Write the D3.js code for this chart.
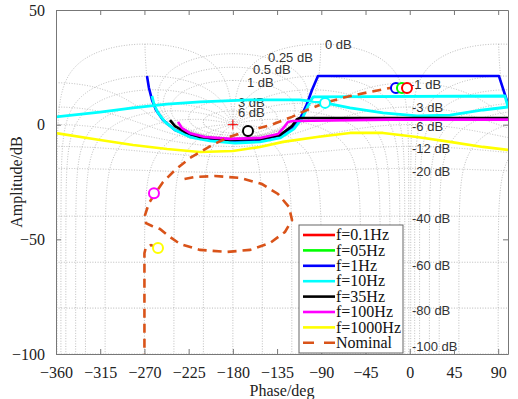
<!DOCTYPE html>
<html>
<head>
<meta charset="utf-8">
<script src="https://cdn.jsdelivr.net/npm/d3@7"></script>
<style>
  body { margin: 0; background: #fff; }
  svg { display: block; }
</style>
</head>
<body>
<svg id="chart" width="518" height="399"></svg>
<script>
// values (phase in deg, amplitude in dB)
const phase1Hz = [-267.4, -265.4, -262.3, -258.2, -251.1, -238.9, -223.6, -203.3, -177.8, -152.4, -132.0, -118.8, -110.7, -104.6, -99.5, -93.4, 90.8, 100];
const amp1Hz = [21.2, 16.0, 10.8, 6.4, 2.0, -2.3, -4.9, -6.7, -7.5, -7.1, -5.4, -1.4, 3.4, 9.0, 15.1, 21.2, 21.2, 9.0];

const phase10Hz = [-262.3, -260.3, -256.2, -249.1, -238.9, -223.6, -203.3, -177.8, -152.4, -132.0, -117.8, -108.6, -103.5, -98.4, 96.9, 100, 74.6, 41.0, 7.4, -27.2, -60.8, -86.2, -111.7, -162.6, -213.5, -247.0, -281.6, -315.2, -360];
const amp10Hz = [12.5, 9.0, 5.1, 1.2, -2.3, -5.4, -7.1, -8.0, -7.5, -5.8, -1.8, 3.4, 8.2, 12.1, 12.5, 7.7, 6.4, 4.2, 3.8, 5.1, 7.3, 9.5, 10.8, 10.8, 9.9, 9.0, 7.3, 5.5, 3.4];

const phase35Hz = [-244.0, -238.9, -228.7, -213.5, -182.9, -152.4, -132.0, -119.8, -114.7, -111.7, 100];
const amp35Hz = [2.0, -0.6, -3.2, -5.4, -6.7, -6.2, -4.5, -0.6, 2.4, 2.9, 2.9];

const phase100Hz = [-235.8, -231.8, -223.6, -208.4, -182.9, -152.4, -134.1, -127.0, -123.9, -118.8, -20, 100];
const amp100Hz = [1.2, -1.5, -3.7, -5.4, -6.2, -5.8, -4.1, -0.6, 1.2, 1.6, 2.2, 2.2];

const phase1000Hz = [-360, -315.2, -281.6, -247.0, -213.5, -179.9, -152.4, -129.0, -94.4, -60.8, -27.2, 7.4, 41.0, 74.6, 100];
const amp1000Hz = [-3.7, -6.7, -8.9, -10.6, -11.9, -11.5, -9.7, -7.5, -5.4, -3.6, -3.6, -5.4, -7.5, -9.7, -11.0];

// nominal curve, null = gap in the line
const phaseNom = [-14.0, -20.1, -40.4, -65.9, -86.2, -104.6, -119.8, -141.2, -164.6, -183.9, -201.2, -223.6, -238.9, -251.1, -258.2, -265.4, -269.4, -268.4, -262.3, -254.2, -244.0, -233.8, -213.5, -186.0, -162.6, -142.2, -127.0, -119.8, -122.9, -134.1, -150.4, -172.7, -198.2, -218.5, -233.8, null, -256.2, -263.3, -268.4, -270, -270];
const ampNom = [16.0, 16.0, 14.3, 12.0, 9.5, 6.4, 3.4, -0.1, -2.7, -5.4, -8.9, -14.5, -19.8, -25.0, -29.4, -34.2, -39.4, -42.9, -44.2, -45.5, -49.0, -52.0, -54.6, -55.5, -54.6, -51.6, -46.8, -41.6, -35.9, -30.2, -25.9, -23.2, -22.4, -22.8, -24.1, null, -53.8, -52.5, -53.3, -56.0, -100];

// circle markers (draw order: 1Hz, 05Hz, 0.1Hz, 10Hz, 35Hz, 100Hz, 1000Hz)
const markerPhase = [-14.0, -7.9, -2.8, -86.2, -164.6, -260.3, -256.2];
const markerAmp = [16.0, 16.0, 16.0, 9.5, -2.8, -29.9, -53.8];
const markerColor = ['#0000ff', '#00ff00', '#ff0000', '#00ffff', '#000000', '#ff00ff', '#ffff00'];

const legendNames = ['f=0.1Hz', 'f=05Hz', 'f=1Hz', 'f=10Hz', 'f=35Hz', 'f=100Hz', 'f=1000Hz', 'Nominal'];
const legendColors = ['#ff0000', '#00ff00', '#0000ff', '#00ffff', '#000000', '#ff00ff', '#ffff00', '#d95319'];

const xTicks = [-360, -315, -270, -225, -180, -135, -90, -45, 0, 45, 90];
const yTicks = [-100, -50, 0, 50];

// Nichols grid levels (closed-loop gain dB and closed-loop phase deg)
const gridMdB = [6, 3, 1, 0.5, 0.25, 0, -1, -3, -6, -12, -20, -40, -60, -80, -100];
const gridNdeg = [1, 5, 10, 20, 30, 50, 90, 120, 150, 180, -1, -5, -10, -20, -30, -50, -90, -120, -150];
const gridLabelText = ['0 dB', '0.25 dB', '0.5 dB', '1 dB', '3 dB', '6 dB', '-1 dB', '-3 dB', '-6 dB', '-12 dB', '-20 dB', '-40 dB', '-60 dB', '-80 dB', '-100 dB'];
const gridLabelPhase = [-86.2, -144.2, -159.5, -165.6, -174.8, -174.8, 0.3, 2.3, 2.3, 2.3, 2.3, 2.3, 2.3, 2.3, 2.3];
const gridLabelAmp = [34.8, 29.1, 23.9, 18.6, 9.9, 5.5, 17.7, 7.3, -0.6, -10.2, -20.2, -40.7, -61.2, -80.8, -96.9];

const svg = d3.select('#chart');
const pL = 56, pR = 508, pT = 10, pB = 354;

const x = d3.scaleLinear().domain([-360, 100]).range([pL, pR]);
const y = d3.scaleLinear().domain([-100, 50]).range([pB, pT]);

svg.append('rect').attr('width', 518).attr('height', 399).attr('fill', '#fff');

svg.append('defs').append('clipPath').attr('id', 'plotClip')
  .append('rect').attr('x', pL).attr('y', pT)
  .attr('width', pR - pL).attr('height', pB - pT);

const plot = svg.append('g').attr('clip-path', 'url(#plotClip)');

// open-loop point for closed-loop T = M e^{j th}
function openLoop(M, thDeg) {
  const th = thDeg * Math.PI / 180;
  const a = M * Math.cos(th), b = M * Math.sin(th);
  const d = (1 - a) * (1 - a) + b * b;
  const re = (a - a * a - b * b) / d, im = b / d;
  return [Math.atan2(im, re) * 180 / Math.PI, 10 * Math.log10(re * re + im * im)];
}

function unwrap(pts) {
  for (let i = 1; i < pts.length; i++) {
    while (pts[i][0] - pts[i - 1][0] > 180) pts[i][0] -= 360;
    while (pts[i][0] - pts[i - 1][0] < -180) pts[i][0] += 360;
  }
  return pts;
}

const gridCurves = [];
gridMdB.forEach(db => {
  const M = Math.pow(10, db / 20);
  const pts = [];
  const t0 = db === 0 ? 1 : 0, t1 = db === 0 ? 359 : 360;
  for (let t = t0; t <= t1 + 1e-9; t += 0.1) pts.push(openLoop(M, t));
  gridCurves.push(unwrap(pts));
});

const mSweep = [];
for (let v = -140; v < -6; v += 0.5) mSweep.push(v);
for (let v = -6; v < 6; v += 0.02) mSweep.push(v);
for (let v = 6; v <= 60; v += 0.5) mSweep.push(v);
gridNdeg.forEach(th => {
  const pts = mSweep.map(v => openLoop(Math.pow(10, v / 20), th));
  gridCurves.push(unwrap(pts));
});

const gridLine = k => d3.line().x(d => x(d[0] + k)).y(d => y(Math.max(-200, d[1])));
gridCurves.forEach(pts => {
  const lo = d3.min(pts, d => d[0]), hi = d3.max(pts, d => d[0]);
  [-720, -360, 0, 360].forEach(k => {
    if (hi + k < -360 || lo + k > 100) return;
    plot.append('path').datum(pts)
      .attr('d', gridLine(k))
      .attr('fill', 'none')
      .attr('stroke', '#a0a0a0')
      .attr('stroke-width', 0.7)
      .attr('stroke-dasharray', '1,1.6');
  });
});

// grid labels
svg.append('g').selectAll('text').data(gridLabelText).enter().append('text')
  .attr('x', (d, i) => x(gridLabelPhase[i]))
  .attr('y', (d, i) => y(gridLabelAmp[i]))
  .attr('dy', '0.35em')
  .attr('font-family', 'Liberation Sans, Arial, sans-serif')
  .attr('font-size', 13)
  .attr('fill', '#333')
  .text(d => d);

// data lines
const line = d3.line()
  .defined(d => d[0] !== null)
  .x(d => x(d[0])).y(d => y(d[1]));

const zipPts = (p, a) => p.map((v, i) => [v, a[i]]);

const series = [
  { p: phase1Hz, a: amp1Hz, c: '#0000ff', w: 2.6 },
  { p: phase10Hz, a: amp10Hz, c: '#00ffff', w: 2.8 },
  { p: phase35Hz, a: amp35Hz, c: '#000000', w: 2.6 },
  { p: phase100Hz, a: amp100Hz, c: '#ff00ff', w: 2.6 },
  { p: phase1000Hz, a: amp1000Hz, c: '#ffff00', w: 2.6 }
];

const lines = svg.append('g').attr('clip-path', 'url(#plotClip)');
series.forEach(s => {
  lines.append('path').datum(zipPts(s.p, s.a))
    .attr('d', line)
    .attr('fill', 'none')
    .attr('stroke', s.c)
    .attr('stroke-width', s.w)
    .attr('stroke-linejoin', 'round');
});

lines.append('path').datum(zipPts(phaseNom, ampNom))
  .attr('d', line)
  .attr('fill', 'none')
  .attr('stroke', '#d95319')
  .attr('stroke-width', 2.6)
  .attr('stroke-dasharray', '9,6');

// critical point
svg.append('path')
  .attr('transform', `translate(${x(-180)},${y(0)})`)
  .attr('d', 'M-5,0H5M0,-5V5')
  .attr('stroke', '#ff0000').attr('stroke-width', 1);

// markers
svg.append('g').selectAll('circle').data(markerPhase).enter().append('circle')
  .attr('cx', d => x(d))
  .attr('cy', (d, i) => y(markerAmp[i]))
  .attr('r', 5)
  .attr('fill', '#fff')
  .attr('stroke', (d, i) => markerColor[i])
  .attr('stroke-width', 2);

// axes (ticks inside, box)
const serif = 'Liberation Serif, Times New Roman, serif';
svg.append('g').attr('transform', `translate(0,${pB})`)
  .call(d3.axisBottom(x).tickValues(xTicks).tickSizeInner(-5).tickSizeOuter(0).tickPadding(13));
svg.append('g').attr('transform', `translate(${pL},0)`)
  .call(d3.axisLeft(y).tickValues(yTicks).tickSizeInner(-5).tickSizeOuter(0).tickPadding(11));
svg.append('g').attr('transform', `translate(0,${pT})`)
  .call(d3.axisTop(x).tickValues(xTicks).tickSizeInner(-5).tickSizeOuter(0).tickFormat(''));
svg.append('g').attr('transform', `translate(${pR},0)`)
  .call(d3.axisRight(y).tickValues(yTicks).tickSizeInner(-5).tickSizeOuter(0).tickFormat(''));

svg.selectAll('.domain').attr('stroke', '#777');
svg.selectAll('.tick line').attr('stroke', '#777');
svg.selectAll('.tick text').attr('font-family', serif).attr('font-size', 16).attr('fill', '#222');

svg.append('text')
  .attr('x', (pL + pR) / 2).attr('y', 396)
  .attr('text-anchor', 'middle')
  .attr('font-family', serif).attr('font-size', 16).attr('fill', '#222')
  .text('Phase/deg');

svg.append('text')
  .attr('transform', `translate(22,${(pT + pB) / 2}) rotate(-90)`)
  .attr('text-anchor', 'middle')
  .attr('font-family', serif).attr('font-size', 16).attr('fill', '#222')
  .text('Amplitude/dB');

// legend
const lg = svg.append('g');
lg.append('rect').attr('x', 299).attr('y', 225).attr('width', 104).attr('height', 128)
  .attr('fill', '#fff').attr('stroke', '#666').attr('stroke-width', 1);
legendNames.forEach((name, i) => {
  const ly = 235 + i * 15.4;
  lg.append('line').attr('x1', 303).attr('x2', 335).attr('y1', ly).attr('y2', ly)
    .attr('stroke', legendColors[i]).attr('stroke-width', 2.6)
    .attr('stroke-dasharray', name === 'Nominal' ? '11,10' : null);
  lg.append('text').attr('x', 336).attr('y', ly).attr('dy', '0.33em')
    .attr('font-family', serif).attr('font-size', 16).attr('fill', '#111')
    .text(name);
});
</script>
</body>
</html>
